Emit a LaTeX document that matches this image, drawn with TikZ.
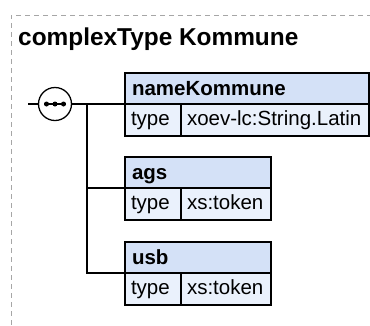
\documentclass[tikz,border=0pt]{standalone}
\usepackage{fontspec}
\setmainfont{Liberation Sans}
\usepackage{tikz}
\usetikzlibrary{positioning, calc}
\definecolor{hdrblue}{RGB}{212,225,247}
\definecolor{rowblue}{RGB}{234,241,252}
\tikzset{
    frame/.style={draw=gray!70, line width=1pt, dash pattern=on 5pt off 4pt},
    hdr/.style={rectangle, draw, line width=1.6pt, fill=hdrblue, anchor=north west, outer sep=0pt,
        font=\bfseries\fontsize{20.5}{24}\selectfont, align=left, text width=#1,
        inner xsep=7pt, inner ysep=2pt, minimum height=31pt, text height=15pt, text depth=2pt},
    cell/.style={rectangle, draw, line width=1.6pt, fill=rowblue, anchor=north west, outer sep=0pt,
        font=\fontsize{20.5}{24}\selectfont, align=left, text width=#1,
        inner xsep=6pt, inner ysep=2pt, minimum height=32pt, text height=15pt, text depth=4pt},
    seqsym/.style={circle, draw, line width=1.3pt, fill=white, minimum size=33pt, inner sep=0pt},
    conn/.style={line width=1.4pt}
}

\begin{document}
\begin{tikzpicture}[x=1pt, y=1pt]
            \useasboundingbox (0,0) rectangle (370,-325);
            \draw[frame] (372,-15) -| (11,-327);
            \node[font=\bfseries\fontsize{24.4}{28}\selectfont, anchor=base west, inner sep=0pt] (title) at (18,-45) {complexType Kommune};

            % elements of the sequence
            \node[hdr=230pt] (name) at (125,-73) {nameKommune};
            \node[cell=44pt] (nameType) at (name.south west) {type};
            \node[cell=176pt] (nameVal) at (nameType.north east) {xoev-lc:String.Latin};

            \node[hdr=132pt] (ags) at (125,-157) {ags};
            \node[cell=44pt] (agsType) at (ags.south west) {type};
            \node[cell=78pt] (agsVal) at (agsType.north east) {xs:token};

            \node[hdr=132pt] (usb) at (125,-242) {usb};
            \node[cell=44pt] (usbType) at (usb.south west) {type};
            \node[cell=78pt] (usbVal) at (usbType.north east) {xs:token};

            % sequence compositor
            \coordinate (start) at (28,-104);
            \coordinate (fork) at (87,-104);
            \draw[conn] (start) -- (fork) -- (name.south west);
            \draw[conn] (fork) |- (ags.south west);
            \draw[conn] (fork) |- (usb.south west);
            \node[seqsym] (seq) at (55,-104) {};
            \draw[conn] ($(seq.center)+(-11,0)$) -- ($(seq.center)+(11,0)$);
            \foreach \dx in {-8.5, 0, 8.5}
                \fill ($(seq.center)+(\dx,0)$) circle (2.5pt);
        \end{tikzpicture}
\end{document}
